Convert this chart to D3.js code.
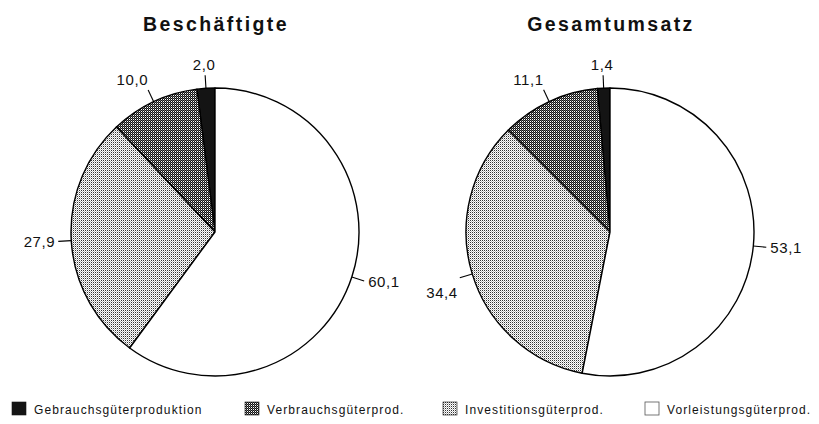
<!DOCTYPE html>
<html><head><meta charset="utf-8">
<script src="https://cdn.jsdelivr.net/npm/d3@7"></script>
<style>
html,body{margin:0;padding:0;background:#fff;}
svg{display:block;font-family:"Liberation Sans",Arial,Helvetica,sans-serif;}
</style></head>
<body>
<svg id="chart" width="819" height="424"></svg>
<script>
const categories = ["Gebrauchsgüterproduktion", "Verbrauchsgüterprod.", "Investitionsgüterprod.", "Vorleistungsgüterprod."];
const chartTitles = ["Beschäftigte", "Gesamtumsatz"];
const beschaeftigte = [2.0, 10.0, 27.9, 60.1];
const gesamtumsatz = [1.4, 11.1, 34.4, 53.1];
const seriesList = [beschaeftigte, gesamtumsatz];

const svg = d3.select("#chart");
const defs = svg.append("defs");

// patterns
const pDark = defs.append("pattern").attr("id","pDark").attr("patternUnits","userSpaceOnUse").attr("width",2).attr("height",2);
pDark.append("rect").attr("width",2).attr("height",2).attr("fill","#fff");
pDark.append("rect").attr("x",0).attr("y",0).attr("width",1).attr("height",1).attr("fill","#111");
pDark.append("rect").attr("x",1).attr("y",1).attr("width",1).attr("height",1).attr("fill","#111");
pDark.append("rect").attr("x",1).attr("y",0).attr("width",1).attr("height",1).attr("fill","#666");

const pLight = defs.append("pattern").attr("id","pLight").attr("patternUnits","userSpaceOnUse").attr("width",2).attr("height",2);
pLight.append("rect").attr("width",2).attr("height",2).attr("fill","#fff");
pLight.append("rect").attr("x",0).attr("y",0).attr("width",1).attr("height",1).attr("fill","#333");
pLight.append("rect").attr("x",1).attr("y",1).attr("width",1).attr("height",1).attr("fill","#bbb");

const fills = d3.scaleOrdinal().domain(categories).range(["#141414","url(#pDark)","url(#pLight)","#ffffff"]);

const fmt = d3.formatLocale({decimal: ",", thousands: ".", grouping: [3], currency: ["", ""]}).format(".1f");

const R = 144;
const cx = d3.scalePoint().domain(chartTitles).range([215, 610]);
const cy = 232;

const pie = d3.pie().sort(null).startAngle(0).endAngle(-2 * Math.PI).value(d => d.v);
const arc = d3.arc().innerRadius(0).outerRadius(R);

chartTitles.forEach((title, i) => {
  const data = seriesList[i].map((v, j) => ({v, cat: categories[j]}));
  const g = svg.append("g").attr("transform", `translate(${cx(title)},${cy})`);
  const arcs = pie(data);

  g.selectAll("path.slice").data(arcs).join("path")
    .attr("class","slice")
    .attr("d", arc)
    .attr("fill", d => fills(d.data.cat))
    .attr("stroke", "#000")
    .attr("stroke-width", 1.4)
    .attr("stroke-linejoin","round");

  // labels with leader lines
  arcs.forEach(d => {
    const a = (d.startAngle + d.endAngle) / 2;
    const s = Math.sin(a), c = -Math.cos(a);
    const p0 = [R * s, c * R];
    const p1 = [(R + 13) * s, c * (R + 13)];
    g.append("line").attr("x1", p0[0]).attr("y1", p0[1]).attr("x2", p1[0]).attr("y2", p1[1])
      .attr("stroke", "#000").attr("stroke-width", 1.1);
    let x = p1[0], y = p1[1], anchor = "middle";
    if (Math.abs(s) < 0.2) { anchor = "middle"; y = p1[1] - 5; x = p1[0] - 1; }
    else if (c < -0.5) { anchor = s > 0 ? "start" : "end"; y = p1[1] - 5; x = p1[0]; }
    else if (c > 0.2 && s < 0) { anchor = "end"; x = p1[0] - 2; y = p1[1] + 20; }
    else { anchor = s > 0 ? "start" : "end"; x = p1[0] + (s > 0 ? 4 : -3); y = p1[1] + 6; }
    g.append("text").attr("x", x).attr("y", y).attr("text-anchor", anchor)
      .attr("font-size", 15).attr("letter-spacing", 0.6).attr("fill", "#111")
      .text(fmt(d.data.v));
  });

  svg.append("text").attr("x", cx(title) + 1).attr("y", 31).attr("text-anchor", "middle")
    .attr("font-size", 19.5).attr("font-weight", "bold").attr("letter-spacing", 2.4).attr("fill", "#111")
    .text(title);
});

// legend
const legendX = [12, 245, 443, 645];
const leg = svg.append("g").attr("class","legend");
categories.forEach((cat, i) => {
  const item = leg.append("g").attr("transform", `translate(${legendX[i]},0)`);
  item.append("rect").attr("x", 0).attr("y", 402).attr("width", 14).attr("height", 13)
    .attr("fill", fills(cat)).attr("stroke", i === 3 ? "#555" : "#111").attr("stroke-width", i === 3 ? 0.8 : 0.6);
  item.append("text").attr("x", 22).attr("y", 414).attr("font-size", 12)
    .attr("letter-spacing", 1.1).attr("fill", "#111").text(cat);
});
</script>
</body></html>
